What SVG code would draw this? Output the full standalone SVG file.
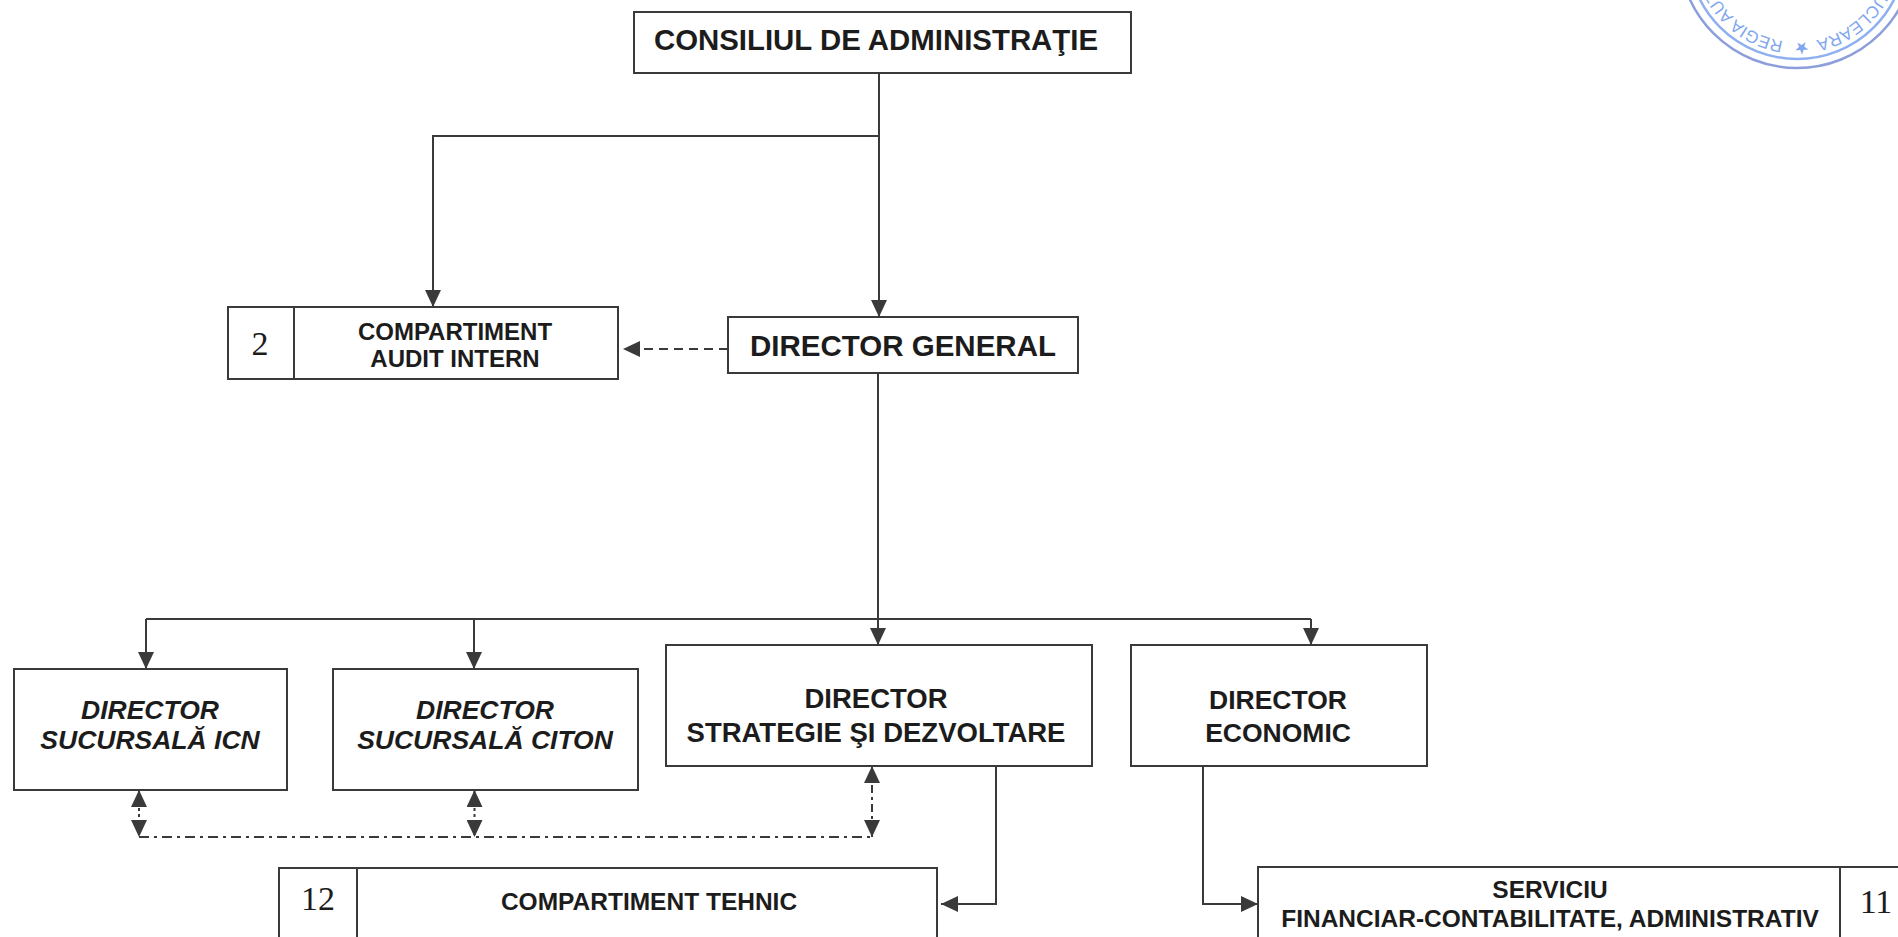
<svg xmlns="http://www.w3.org/2000/svg" width="1898" height="937" viewBox="0 0 1898 937">
<style>
.b{fill:#fff;stroke:#3a3a3a;stroke-width:2}
.t{font-family:"Liberation Sans",Arial,sans-serif;font-weight:700;fill:#1c1c1c;text-anchor:middle}
.i{font-style:italic}
.n{font-family:"Liberation Serif","Times New Roman",serif;font-size:34px;fill:#1c1c1c;text-anchor:middle}
.l{fill:none;stroke:#3a3a3a;stroke-width:2}
.s{font-family:"Liberation Sans",Arial,sans-serif;font-size:17px;fill:#7fa6ee}
.r{fill:none;stroke:#8fb0f0;stroke-width:2.500}
.o{fill:none;stroke:#8c9fdc;stroke-width:2.500}
</style>
<defs>
<marker id="a" markerUnits="userSpaceOnUse" markerWidth="18" markerHeight="16" refX="17" refY="8" orient="auto-start-reverse"><path d="M0 0L17 8L0 16z" fill="#3a3a3a"/></marker>
</defs>
<rect width="1898" height="937" fill="#fff"/>
<g id="stamp">
<circle class="r" cx="1797" cy="-50" r="109"/>
<circle class="o" cx="1797" cy="-50" r="118"/>
<path id="sp" d="M1889 -50A92 92 0 0 1 1705 -50" fill="none"/>
<text class="s"><textPath href="#sp" startOffset="125" text-anchor="end">NUCLEARA</textPath></text>
<text class="s"><textPath href="#sp" startOffset="140" text-anchor="middle">★</textPath></text>
<text class="s"><textPath href="#sp" startOffset="158">REGIA AUT</textPath></text>
</g>
<g id="connectors">
<path class="l" d="M879 73V317" marker-end="url(#a)"/>
<path class="l" d="M879 136H433V307" marker-end="url(#a)"/>
<path class="l" d="M728 349H623" stroke-dasharray="9 6" marker-end="url(#a)"/>
<path class="l" d="M878 373V645" marker-end="url(#a)"/>
<path class="l" d="M146 619H1311"/>
<path class="l" d="M146 619V669" marker-end="url(#a)"/>
<path class="l" d="M474 619V669" marker-end="url(#a)"/>
<path class="l" d="M1311 619V645" marker-end="url(#a)"/>
<path class="l" d="M139 837H872" stroke-dasharray="10 5 3 5"/>
<path class="l" d="M139 790V837" stroke-dasharray="3 3" marker-start="url(#a)" marker-end="url(#a)"/>
<path class="l" d="M474.500 790V837" stroke-dasharray="3 3" marker-start="url(#a)" marker-end="url(#a)"/>
<path class="l" d="M872 766V837" stroke-dasharray="8 4 3 4" marker-start="url(#a)" marker-end="url(#a)"/>
<path class="l" d="M996 766V904H941" marker-end="url(#a)"/>
<path class="l" d="M1203 766V904H1258" marker-end="url(#a)"/>
</g>
<g id="consiliu"><rect class="b" x="634" y="12" width="497" height="61"/><text class="t" x="876" y="50" font-size="29.400">CONSILIUL DE ADMINISTRAŢIE</text></g>
<g id="audit"><rect class="b" x="228" y="307" width="390" height="72"/><path class="l" d="M294 307V379"/><text class="n" x="260" y="355">2</text><text class="t" x="455" y="340" font-size="24">COMPARTIMENT</text><text class="t" x="455" y="367" font-size="24">AUDIT INTERN</text></g>
<g id="dg"><rect class="b" x="728" y="317" width="350" height="56"/><text class="t" x="903" y="356" font-size="29.500">DIRECTOR GENERAL</text></g>
<g id="icn"><rect class="b" x="14" y="669" width="273" height="121"/><text class="t i" x="150" y="719" font-size="26.500">DIRECTOR</text><text class="t i" x="150" y="749" font-size="26.500">SUCURSALĂ ICN</text></g>
<g id="citon"><rect class="b" x="333" y="669" width="305" height="121"/><text class="t i" x="485" y="719" font-size="26.500">DIRECTOR</text><text class="t i" x="485" y="749" font-size="26.500">SUCURSALĂ CITON</text></g>
<g id="strategie"><rect class="b" x="666" y="645" width="426" height="121"/><text class="t" x="876" y="708" font-size="27.500">DIRECTOR</text><text class="t" x="876" y="742" font-size="27.500">STRATEGIE ŞI DEZVOLTARE</text></g>
<g id="economic"><rect class="b" x="1131" y="645" width="296" height="121"/><text class="t" x="1278" y="709" font-size="26.500">DIRECTOR</text><text class="t" x="1278" y="742" font-size="26.500">ECONOMIC</text></g>
<g id="tehnic"><rect class="b" x="279" y="868" width="658" height="90"/><path class="l" d="M357 868V958"/><text class="n" x="318" y="910">12</text><text class="t" x="649" y="910" font-size="24.500">COMPARTIMENT TEHNIC</text></g>
<g id="serviciu"><rect class="b" x="1258" y="867" width="660" height="90"/><path class="l" d="M1840 867V957"/><text class="n" x="1876" y="913">11</text><text class="t" x="1550" y="898" font-size="24.500">SERVICIU</text><text class="t" x="1550" y="927" font-size="24.500">FINANCIAR-CONTABILITATE, ADMINISTRATIV</text></g>
</svg>
